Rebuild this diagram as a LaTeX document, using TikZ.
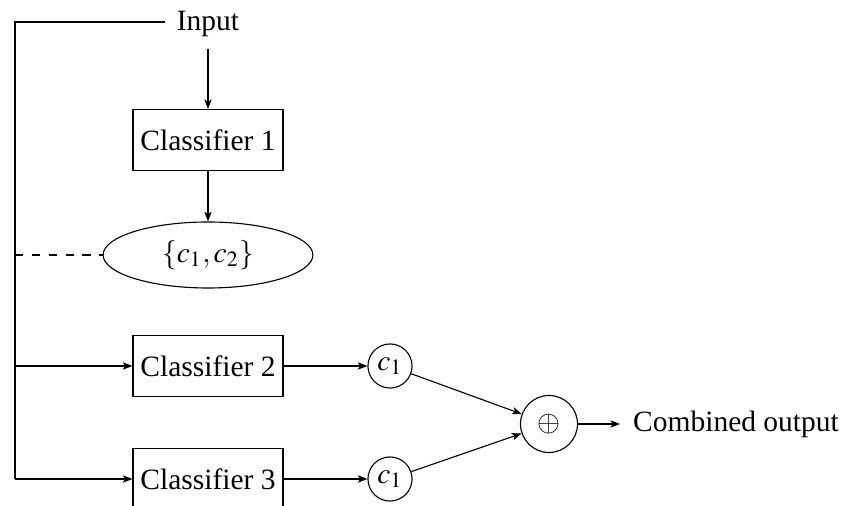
\documentclass[tikz,border=0pt]{standalone}
\usepackage{mathptmx}
\usepackage[no-math]{fontspec}
\setmainfont{Liberation Serif}
\usetikzlibrary{shapes.geometric,arrows.meta}
\begin{document}
\begin{tikzpicture}[x=0.356pt,y=-0.356pt,
  line width=0.4pt,
  every node/.style={font=\fontsize{10.5}{12.6}\selectfont},
  arr/.style={-{Stealth[length=3.4pt,width=2.6pt,inset=0.8pt]}},
  box/.style={draw,rectangle,minimum width=53.4pt,minimum height=21.6pt,inner sep=2pt},
  oval/.style={draw,ellipse,minimum width=74.7pt,minimum height=23.5pt,inner sep=1pt},
  smallc/.style={draw,circle,minimum size=15.7pt,inner sep=0pt},
  bigc/.style={draw,circle,minimum size=20.3pt,inner sep=0pt}]
\useasboundingbox (0,0) rectangle (843,506);
\node[inner sep=4pt] (in) at (208,24) {Input};
\coordinate (tl) at (15,22);
\node[box] (k1) at (208,140) {Classifier 1};
\node[oval] (s) at (208,255) {$\{c_1,c_2\}$};
\node[box] (k2) at (208,366) {Classifier 2};
\node[box] (k3) at (208,479) {Classifier 3};
\node[smallc] (a) at (390,366) {$c_1$};
\node[smallc] (b) at (390,479) {$c_1$};
\node[bigc] (p) at (549,424) {$\oplus$};
\node[anchor=west,inner sep=4.5pt] (out) at (620,424) {Combined output};
\coordinate (m1) at (15,255);
\coordinate (m2) at (15,366);
\coordinate (m3) at (15,479);
\draw (in.west |- tl) -- (tl) -- (m3);
\draw[dashed] (m1) -- (s.west);
\draw[arr] (in.south) -- (k1.north);
\draw[arr] (k1.south) -- (s.north);
\draw[arr] (m2) -- (k2.west);
\draw[arr] (m3) -- (k3.west);
\draw[arr] (k2.east) -- (a.west);
\draw[arr] (k3.east) -- (b.west);
\draw[arr] (a) -- (p);
\draw[arr] (b) -- (p);
\draw[arr] (p.east) -- (out.west);
\end{tikzpicture}
\end{document}
